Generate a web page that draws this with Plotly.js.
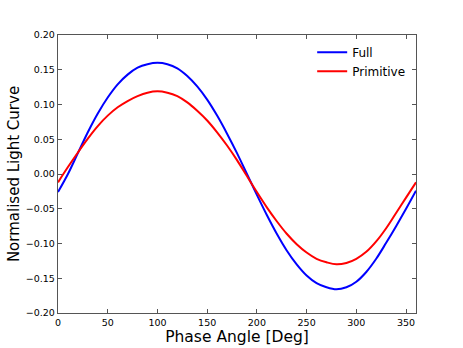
<!DOCTYPE html>
<html>
<head>
<meta charset="utf-8">
<script src="https://cdn.plot.ly/plotly-3.0.1.min.js"></script>
<style>html,body{margin:0;padding:0;background:#fff;}#chart{width:463px;height:348px;}</style>
</head>
<body>
<div id="chart"></div>
<script>
const phaseAngle = [0,10,20,30,40,50,60,70,80,90,100,110,120,130,140,150,160,170,180,190,200,210,220,230,240,250,260,270,280,290,300,310,320,330,340,350,360];
const fullCurve = [-0.026,0.000,0.030,0.060,0.087,0.110,0.129,0.143,0.153,0.158,0.160,0.158,0.152,0.141,0.126,0.107,0.084,0.058,0.030,0.000,-0.030,-0.059,-0.086,-0.110,-0.130,-0.146,-0.157,-0.163,-0.166,-0.163,-0.155,-0.141,-0.122,-0.099,-0.075,-0.050,-0.024];
const primitiveCurve = [-0.012,0.010,0.031,0.051,0.069,0.084,0.096,0.105,0.112,0.117,0.119,0.117,0.112,0.103,0.091,0.077,0.060,0.041,0.020,-0.003,-0.026,-0.048,-0.068,-0.086,-0.101,-0.113,-0.122,-0.127,-0.130,-0.128,-0.122,-0.112,-0.097,-0.078,-0.056,-0.034,-0.012];
const seriesNames = ["Full", "Primitive"];
const xTicks = [0,50,100,150,200,250,300,350];
const yTicks = [-0.20,-0.15,-0.10,-0.05,0.00,0.05,0.10,0.15,0.20];

const font = "DejaVu Sans, sans-serif";
const traces = [
  {x: phaseAngle, y: fullCurve, name: seriesNames[0], mode: "lines",
   line: {color: "#0000ff", width: 2, shape: "spline", smoothing: 1}},
  {x: phaseAngle, y: primitiveCurve, name: seriesNames[1], mode: "lines",
   line: {color: "#ff0000", width: 2, shape: "spline", smoothing: 1}}
];
const axisCommon = {
  showgrid: false, zeroline: false, showline: true, linecolor: "#555", linewidth: 1.3,
  mirror: "ticks", ticks: "inside", ticklen: 4, tickwidth: 1, tickcolor: "#555",
  tickfont: {family: font, size: 9.5, color: "#000"}
};
const layout = {
  width: 463, height: 348,
  margin: {l: 58, r: 47, t: 35, b: 35},
  paper_bgcolor: "#fff", plot_bgcolor: "#fff",
  showlegend: true,
  legend: {x: 0.71, y: 0.99, xanchor: "left", yanchor: "top", bgcolor: "rgba(0,0,0,0)",
           borderwidth: 0, font: {family: font, size: 12, color: "#000"}, tracegroupgap: 0},
  xaxis: Object.assign({}, axisCommon, {range: [0, 360], tickvals: xTicks, ticktext: xTicks.map(String),
    title: {text: "Phase Angle [Deg]", font: {family: font, size: 15.5, color: "#000"}, standoff: 4}}),
  yaxis: Object.assign({}, axisCommon, {range: [-0.2, 0.2], tickvals: yTicks, tickformat: ".2f",
    title: {text: "Normalised Light Curve", font: {family: font, size: 15, color: "#000"}, standoff: 2}})
};
Plotly.newPlot("chart", traces, layout, {displayModeBar: false, staticPlot: true});
</script>
</body>
</html>
